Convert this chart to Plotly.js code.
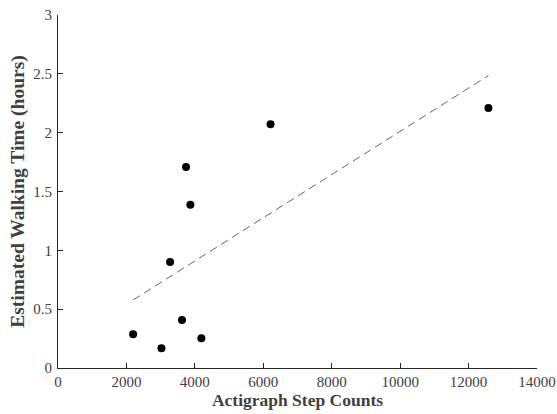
<!DOCTYPE html>
<html>
<head>
<meta charset="utf-8">
<script src="https://cdn.plot.ly/plotly-3.0.1.min.js"></script>
<style>html,body{margin:0;padding:0;background:#fff;}#chart{width:557px;height:414px;}</style>
</head>
<body>
<div id="chart"></div>
<script>
var stepCounts = [2196, 3024, 3625, 4190, 3276, 3742, 3869, 6212, 12580];
var walkingHours = [0.286, 0.167, 0.408, 0.252, 0.90, 1.708, 1.388, 2.071, 2.209];
var fitX = [2196, 12580];
var fitY = [0.578, 2.485];
var xTicks = [0, 2000, 4000, 6000, 8000, 10000, 12000, 14000];
var yTicks = [0, 0.5, 1, 1.5, 2, 2.5, 3];
var yTickText = ['0', '0.5', '1', '1.5', '2', '2.5', '3'];

var serif = 'Liberation Serif, Times New Roman, serif';
var traces = [
  {x: stepCounts, y: walkingHours, type: 'scatter', mode: 'markers',
   marker: {color: '#000', size: 8}, showlegend: false, hoverinfo: 'none'},
  {x: fitX, y: fitY, type: 'scatter', mode: 'lines',
   line: {color: '#666', width: 1, dash: '8px,5px'}, showlegend: false, hoverinfo: 'none'}
];
var axisCommon = {
  showgrid: false, zeroline: false, showline: true, linecolor: '#262626', linewidth: 1,
  ticks: 'inside', ticklen: 5, tickcolor: '#262626', ticklabeloverflow: 'allow',
  tickfont: {family: serif, size: 15, color: '#404040'}
};
var layout = {
  width: 557, height: 414,
  margin: {l: 58, r: 20, t: 15, b: 46},
  paper_bgcolor: '#fff', plot_bgcolor: '#fff',
  xaxis: Object.assign({}, axisCommon, {
    range: [0, 14000], tickvals: xTicks, ticktext: xTicks.map(String),
    title: {text: '<b>Actigraph Step Counts</b>', standoff: 3,
      font: {family: serif, size: 17.5, color: '#404040'}}
  }),
  yaxis: Object.assign({}, axisCommon, {
    range: [0, 3], tickvals: yTicks, ticktext: yTickText, ticklabelstandoff: 2,
    title: {text: '<b>Estimated Walking Time (hours)</b>', standoff: 3,
      font: {family: serif, size: 19.5, color: '#404040'}}
  })
};
Plotly.newPlot('chart', traces, layout, {staticPlot: true, displayModeBar: false});
</script>
</body>
</html>
